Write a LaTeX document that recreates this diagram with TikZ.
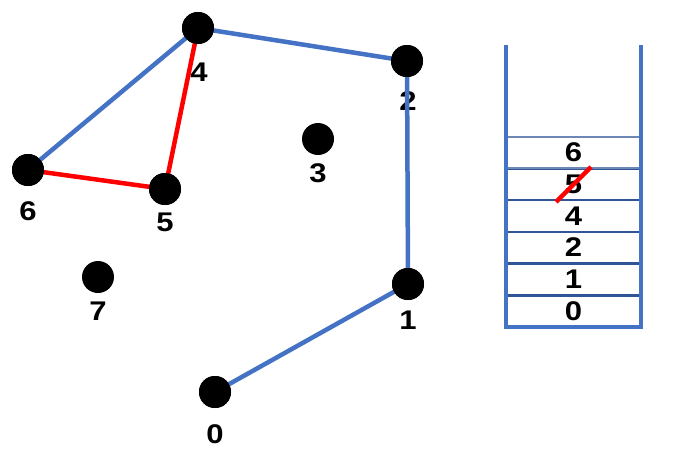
\documentclass[tikz,border=0pt]{standalone}
\usepackage{graphicx}
\usepackage{fontspec}
\setmainfont{Liberation Sans}
\newcommand{\wdig}[1]{\scalebox{1.15}[1]{#1}}
\begin{document}
\begin{tikzpicture}[x=1pt,y=-1pt,
  vert/.style={circle,fill=black,minimum size=32pt,inner sep=0pt},
  lbl/.style={font=\fontsize{27}{27}\selectfont\bfseries,inner sep=0pt},
  bedge/.style={draw=edgeblue,line width=4.5pt},
  redge/.style={draw=red,line width=4.5pt},
  cell/.style={draw=cellblue,line width=2pt,minimum width=135pt,minimum height=31.5pt,inner sep=0pt,font=\fontsize{27}{27}\selectfont\bfseries}]
\definecolor{edgeblue}{HTML}{4472C4}
\definecolor{cellblue}{HTML}{2F5597}
\useasboundingbox (0,0) rectangle (688,450);
% vertices
\node[vert] (v4) at (198,28) {};
\node[vert] (v2) at (407,61) {};
\node[vert] (v3) at (318,139) {};
\node[vert] (v6) at (28,170) {};
\node[vert] (v5) at (165,189) {};
\node[vert] (v7) at (98,277) {};
\node[vert] (v1) at (408,284) {};
\node[vert] (v0) at (215,392) {};
% labels
\node[lbl] (l4) at (199,72) {\wdig{4}};
\node[lbl] (l2) at (408,101) {\wdig{2}};
\node[lbl] (l3) at (318,173) {\wdig{3}};
\node[lbl] (l6) at (28,211) {\wdig{6}};
\node[lbl] (l5) at (165,222) {\wdig{5}};
\node[lbl] (l7) at (98,311) {\wdig{7}};
\node[lbl] (l1) at (408,320) {\wdig{1}};
\node[lbl] (l0) at (215,434) {\wdig{0}};
% edges
\draw[bedge] (v0.center) -- (v1.center);
\draw[bedge] (v1.center) -- (v2.center);
\draw[bedge] (v2.center) -- (v4.center);
\draw[bedge] (v4.center) -- (v6.center);
\draw[redge] (v6.center) -- (v5.center);
\draw[redge] (v5.center) -- (v4.center);
% redraw vertices on top
\node[vert] at (v4) {};
\node[vert] at (v2) {};
\node[vert] at (v6) {};
\node[vert] at (v5) {};
\node[vert] at (v1) {};
\node[vert] at (v0) {};
% stack cells
\node[cell] (c0) at (573.5,311.5) {\wdig{0}};
\node[cell] (c1) at (573.5,279.5) {\wdig{1}};
\node[cell] (c2) at (573.5,247.5) {\wdig{2}};
\node[cell] (c4) at (573.5,216) {\wdig{4}};
\node[cell] (c5) at (573.5,184.5) {\wdig{5}};
\node[cell,draw=cellblue!70] (c6) at (573.5,152.5) {\wdig{6}};
% stack walls
\coordinate (tl) at (506,45);
\coordinate (tr) at (641,45);
\draw[draw=edgeblue,line width=3.5pt] (tl) -- (506,327) -- (641,327) -- (tr);
% strike
\coordinate (s1) at (556,202);
\coordinate (s2) at (591,167);
\draw[red,line width=4.5pt] (s1) -- (s2);
\end{tikzpicture}
\end{document}
